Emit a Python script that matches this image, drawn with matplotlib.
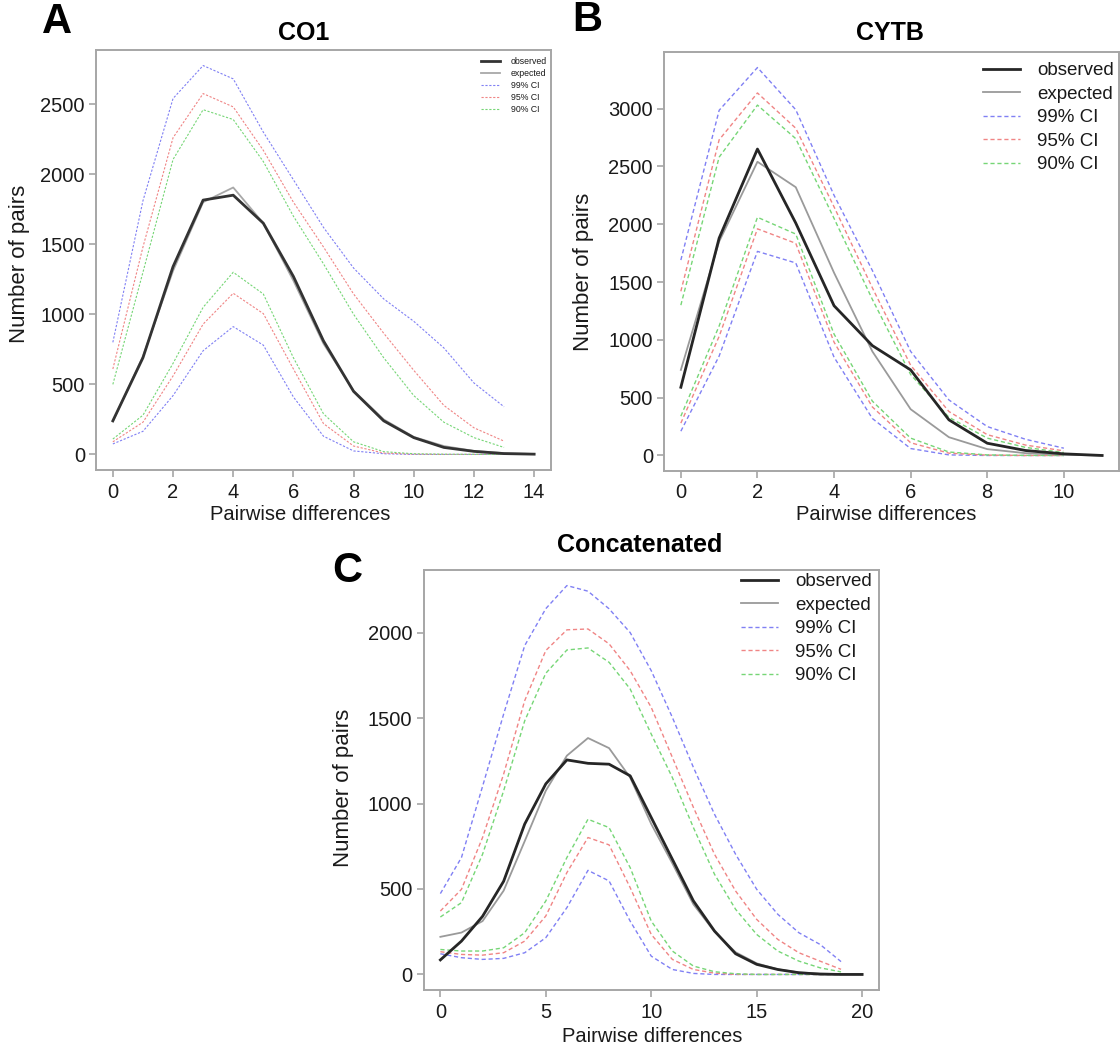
import matplotlib.pyplot as plt

plt.rcParams['font.family'] = ['Liberation Sans', 'DejaVu Sans']

# ---- data ----
# A: CO1
a_x = list(range(15))
a_obs = [240, 690, 1340, 1815, 1850, 1650, 1270, 810, 450, 240, 120, 50, 22, 6, 2]
a_exp = [235, 700, 1310, 1800, 1905, 1650, 1240, 790, 455, 250, 125, 60, 25, 10, 3]
a_ci_x = list(range(14))
a_99u = [800, 1810, 2540, 2775, 2680, 2300, 1960, 1620, 1330, 1110, 950, 760, 510, 340]
a_95u = [610, 1480, 2260, 2575, 2480, 2170, 1800, 1480, 1145, 865, 600, 350, 190, 95]
a_90u = [500, 1300, 2105, 2460, 2390, 2090, 1700, 1360, 1000, 690, 420, 230, 120, 50]
a_90l = [110, 280, 650, 1050, 1300, 1145, 690, 290, 90, 20, 5, 2, 1, 0]
a_95l = [90, 230, 560, 930, 1150, 1005, 610, 220, 60, 10, 2, 0, 0, 0]
a_99l = [75, 165, 420, 740, 912, 780, 410, 130, 25, 5, 0, 0, 0, 0]

# B: CYTB
b_x = list(range(12))
b_obs = [590, 1880, 2650, 2010, 1295, 950, 740, 308, 106, 43, 14, 0]
b_exp = [740, 1850, 2540, 2320, 1580, 900, 400, 158, 55, 20, 6, 0]
b_ci_x = list(range(11))
b_99u = [1690, 2985, 3355, 2990, 2250, 1600, 900, 480, 250, 140, 63]
b_95u = [1420, 2730, 3135, 2830, 2150, 1450, 780, 380, 180, 90, 40]
b_90u = [1300, 2580, 3030, 2740, 2050, 1350, 700, 330, 150, 70, 25]
b_90l = [340, 1120, 2060, 1915, 1050, 470, 150, 30, 5, 1, 0]
b_95l = [280, 1030, 1960, 1835, 980, 420, 110, 20, 3, 0, 0]
b_99l = [210, 860, 1765, 1665, 850, 320, 60, 5, 0, 0, 0]

# C: Concatenated
c_x = list(range(21))
c_obs = [85, 195, 340, 545, 880, 1115, 1255, 1235, 1230, 1162, 918, 674, 430, 254, 121, 59, 29, 10, 2, 0, 0]
c_exp = [220, 245, 312, 490, 780, 1075, 1280, 1383, 1324, 1152, 880, 650, 410, 250, 130, 65, 30, 12, 5, 2, 0]
c_ci_x = list(range(20))
c_99u = [473, 684, 1100, 1523, 1924, 2140, 2275, 2242, 2139, 2000, 1777, 1504, 1211, 937, 703, 498, 352, 244, 176, 75]
c_95u = [371, 498, 801, 1172, 1602, 1895, 2016, 2021, 1934, 1777, 1562, 1270, 977, 703, 488, 322, 205, 127, 78, 30]
c_90u = [336, 420, 703, 1074, 1484, 1762, 1898, 1910, 1826, 1670, 1406, 1152, 859, 586, 381, 234, 137, 78, 39, 15]
c_90l = [146, 137, 137, 156, 244, 430, 684, 908, 859, 625, 312, 137, 49, 16, 4, 0, 0, 0, 0, 0]
c_95l = [133, 117, 113, 127, 195, 342, 596, 801, 758, 508, 234, 88, 29, 8, 0, 0, 0, 0, 0, 0]
c_99l = [121, 98, 88, 94, 127, 215, 391, 609, 547, 312, 107, 29, 6, 0, 0, 0, 0, 0, 0, 0]

legend_labels = ['observed', 'expected', '99% CI', '95% CI', '90% CI']
ci_colors = {'99': '#8080f4', '95': '#f08585', '90': '#76d676'}

W, H = 1120, 1048
fig = plt.figure(figsize=(W / 100, H / 100), dpi=100)


def fx(x):
    return x / W


def fy(y):
    return 1 - y / H


def make_panel(rect, x, obs, exp, ci_x, cis, xticks, yticks, title, letter,
               title_xy, letter_xy, xlab_xy, ylab_xy, leg_xy, leg_fs, small=False):
    l, r, t, b = rect
    ax = fig.add_axes([fx(l), fy(b), (r - l) / W, (b - t) / H])
    dash = (2, 1.5) if small else (3, 2)
    ci_lw = 0.8 if small else 1.0
    ax.plot(x, obs, color='#262626' if not small else '#333333', lw=2.0, label=legend_labels[0], zorder=5)
    ax.plot(x, exp, color='#9a9a9a' if not small else '#a8a8a8', lw=1.3, label=legend_labels[1], zorder=4)
    for key, lab in zip(['99', '95', '90'], legend_labels[2:]):
        up, low = cis[key]
        ax.plot(ci_x, up, color=ci_colors[key], lw=ci_lw, ls=(0, dash), label=lab)
        ax.plot(ci_x, low, color=ci_colors[key], lw=ci_lw, ls=(0, dash))
    xmax = max(x)
    ymax = max(max(v[0]) for v in cis.values())
    ymax = max(ymax, max(obs), max(exp))
    ax.set_xlim(-0.04 * xmax, 1.04 * xmax)
    ax.set_ylim(-0.04 * ymax, 1.04 * ymax)
    ax.set_xticks(xticks)
    ax.set_yticks(yticks)
    for s in ax.spines.values():
        s.set_color('#a6a6a6')
        s.set_linewidth(1.4)
    ax.tick_params(direction='out', length=5, width=1.2, color='#a6a6a6',
                   labelsize=14.5, labelcolor='#1a1a1a', pad=3)
    ax.tick_params(axis='x', pad=4)

    fig.text(fx(title_xy[0]), fy(title_xy[1]), title, fontsize=18, fontweight='bold',
             ha='center', va='center')
    fig.text(fx(letter_xy[0]), fy(letter_xy[1]), letter, fontsize=30, fontweight='bold',
             ha='center', va='center')
    fig.text(fx(xlab_xy[0]), fy(xlab_xy[1]), 'Pairwise differences', fontsize=14.5,
             ha='center', va='center', color='#1a1a1a')
    fig.text(fx(ylab_xy[0]), fy(ylab_xy[1]), 'Number of pairs', fontsize=16,
             ha='center', va='center', rotation=90, color='#1a1a1a')

    if small:
        leg = ax.legend(loc='upper right', bbox_to_anchor=(fx(leg_xy[0]), fy(leg_xy[1])),
                        bbox_transform=fig.transFigure, frameon=False, fontsize=leg_fs,
                        handlelength=2.2, handletextpad=1.2, labelspacing=0.35,
                        borderpad=0, borderaxespad=0)
    else:
        leg = ax.legend(loc='upper right', bbox_to_anchor=(fx(leg_xy[0]), fy(leg_xy[1])),
                        bbox_transform=fig.transFigure, frameon=False, fontsize=leg_fs,
                        handlelength=2.0, handletextpad=0.9, labelspacing=0.34,
                        borderpad=0, borderaxespad=0)
    for t_ in leg.get_texts():
        t_.set_color('#1a1a1a')
    return ax


make_panel((96, 551, 50, 470), a_x, a_obs, a_exp, a_ci_x,
           {'99': (a_99u, a_99l), '95': (a_95u, a_95l), '90': (a_90u, a_90l)},
           range(0, 15, 2), range(0, 2501, 500), 'CO1', 'A',
           (304, 33), (57, 22), (300, 514), (20, 264), (547, 57), 6.3, small=True)

make_panel((664, 1119, 52, 471), b_x, b_obs, b_exp, b_ci_x,
           {'99': (b_99u, b_99l), '95': (b_95u, b_95l), '90': (b_90u, b_90l)},
           range(0, 11, 2), range(0, 3001, 500), 'CYTB', 'B',
           (890, 33), (587, 20), (886, 515), (584, 272), (1114, 62), 13.5)

make_panel((423.5, 879, 570, 990), c_x, c_obs, c_exp, c_ci_x,
           {'99': (c_99u, c_99l), '95': (c_95u, c_95l), '90': (c_90u, c_90l)},
           range(0, 21, 5), range(0, 2001, 500), 'Concatenated', 'C',
           (640, 545), (347, 571), (652, 1036), (344, 788), (872, 573), 13.5)

fig.savefig('out.png', dpi=100)
